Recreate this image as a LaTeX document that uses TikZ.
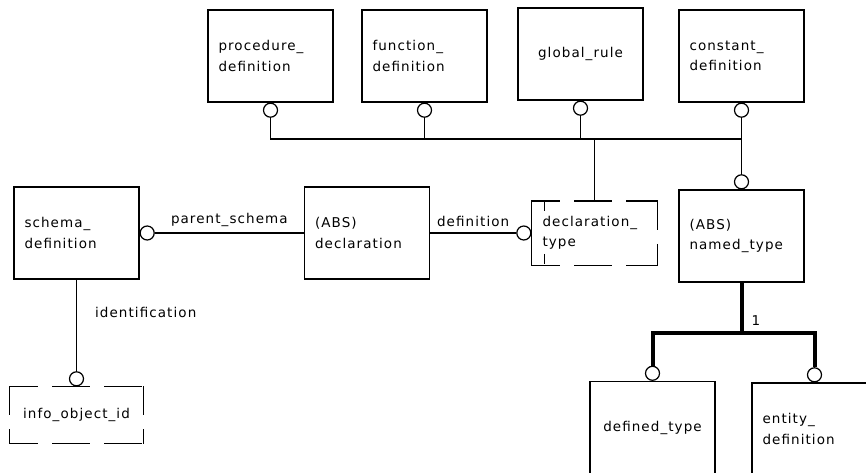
\documentclass[tikz,border=0pt]{standalone}
\usepackage{fontspec}
\setmainfont{DejaVu Sans}[LetterSpace=8]
\begin{document}
\begin{tikzpicture}[x=1pt,y=-1pt,line width=1.2pt,
  txt/.style={font=\fontsize{13.5}{20.5}\selectfont},
  ent/.style={txt,draw,minimum width=125pt,minimum height=92pt,inner sep=0pt},
  ml/.style={text width=104pt,align=left},
  dbox/.style={txt,inner sep=0pt,minimum width=125pt},
  dashedge/.style={dash pattern=on 38pt off 14pt,dash phase=9pt},
  selmark/.style={dash pattern=on 10pt off 43pt},
  ring/.style={circle,draw,fill=white,minimum size=14pt,inner sep=0pt},
  thicklink/.style={line width=4pt},
  lbl/.style={txt,inner sep=0pt}]
\path[use as bounding box] (0,0) rectangle (866,473);
\clip (0,0) rectangle (866,473);

% entity boxes
\node[ent,ml] (proc)  at (270.5,56) {procedure\_\\definition};
\node[ent,ml] (func)  at (424.5,56) {function\_\\definition};
\node[ent]    (grule) at (580.5,54) {global\_rule};
\node[ent,ml] (const) at (741.5,56) {constant\_\\definition};
\node[ent,ml] (schema) at (76.5,233) {schema\_\\definition};
\node[ent,ml] (decl)  at (367,233) {(ABS)\\declaration};
\node[ent,ml] (ntype) at (741.5,236) {(ABS)\\named\_type};
\node[ent]    (deft)  at (652.5,427.5) {defined\_type};
\node[ent,ml] (entd)  at (814.5,429) {entity\_\\definition};

% type boxes (dashed)
\node[dbox,ml,minimum height=63pt] (dtype) at (594.5,233) {declaration\_\\type};
\node[dbox,minimum width=133pt,minimum height=56pt] (info) at (76.5,415) {info\_object\_id};
\foreach \n in {dtype,info}{
  \draw[dashedge] (\n.north west) -- (\n.north east);
  \draw[dashedge] (\n.south west) -- (\n.south east);
  \draw[dashedge] (\n.north east) -- (\n.south east);
}
\draw (dtype.north west) -- (dtype.south west);
\draw[dashedge] (info.north west) -- (info.south west);
\draw[selmark] ([xshift=13pt]dtype.north west) -- ([xshift=13pt]dtype.south west);

% rings
\node[ring,anchor=north] (rproc)  at (proc.south) {};
\node[ring,anchor=north] (rfunc)  at (func.south) {};
\node[ring,anchor=north] (rgrule) at (grule.south) {};
\node[ring,anchor=north] (rconst) at (const.south) {};
\node[ring,anchor=south] (rntype) at (ntype.north) {};
\node[ring,anchor=west]  (rschema) at (schema.east) {};
\node[ring,anchor=east]  (rdtype) at (dtype.west) {};
\node[ring,anchor=south] (rinfo)  at (info.north) {};
\node[ring,anchor=south] (rdeft)  at (deft.north) {};
\node[ring,anchor=south] (rentd)  at (entd.north) {};

% select bus
\coordinate (bus) at (0,139);
\draw (rproc.south) -- (rproc.south |- bus) -- (rconst.south |- bus);
\draw (rfunc.south) -- (rfunc.south |- bus);
\draw (rgrule.south) -- (rgrule.south |- bus);
\draw (rconst.south) -- (rntype.north);
\draw (dtype.north) -- (dtype.north |- bus);

% attributes
\draw (rschema.east) -- node[lbl,midway,above=6pt] (lps) {parent\_schema} (decl.west);
\draw (decl.east) -- node[lbl,midway,above=6pt] (ldef) {definition} (rdtype.west);
\draw (schema.south) -- node[lbl,pos=0.36,anchor=west,xshift=18pt] (lid) {identification} (rinfo.north);

% one-of subtype tree
\coordinate (split) at (741.5,333);
\draw[thicklink] (ntype.south) -- node[lbl,pos=0.75,anchor=west,xshift=8pt] (lone) {1} (split);
\draw[thicklink] (rdeft.north) |- (rentd.north |- split) -- (rentd.north);
\end{tikzpicture}
\end{document}
